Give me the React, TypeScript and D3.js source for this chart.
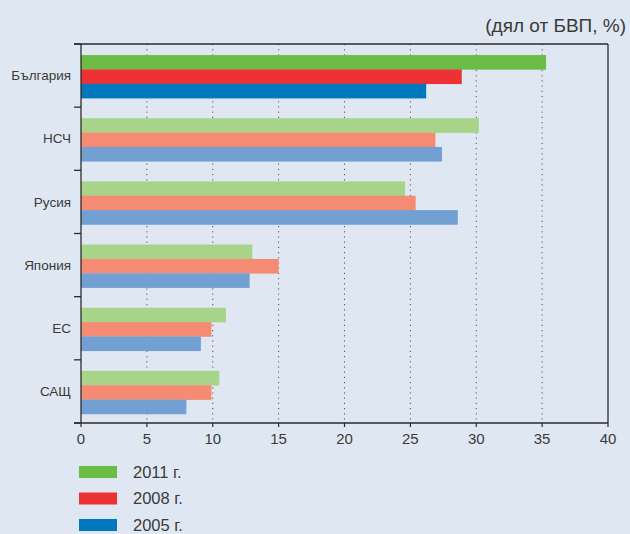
import { useEffect, useRef } from "react";
import * as d3 from "d3";

const categories = ["България", "НСЧ", "Русия", "Япония", "ЕС", "САЩ"];
const years = ["2011 г.", "2008 г.", "2005 г."];
const values2011 = [35.3, 30.2, 24.6, 13.0, 11.0, 10.5];
const values2008 = [28.9, 26.9, 25.4, 15.0, 9.9, 9.9];
const values2005 = [26.2, 27.4, 28.6, 12.8, 9.1, 8.0];
const xTicks = [0, 5, 10, 15, 20, 25, 30, 35, 40];
const unitLabel = "(дял от БВП, %)";

const strongColors = ["#6cbd45", "#ee3135", "#0077be"];
const softColors = ["#a8d489", "#f58b72", "#73a0d3"];

const FONT = "'Liberation Sans Narrow', 'Liberation Sans', sans-serif";
const TEXT = "#3a3a3a";

export default function App() {
  const svgRef = useRef<SVGSVGElement>(null);

  useEffect(() => {
    if (!svgRef.current) return;
    const width = 630;
    const height = 534;
    const margin = { top: 44, left: 81, right: 22, bottom: 111 };
    const innerW = width - margin.left - margin.right;
    const innerH = height - margin.top - margin.bottom;

    const svg = d3.select(svgRef.current);
    svg.selectAll("*").remove();
    svg.attr("width", width).attr("height", height);

    svg.append("rect").attr("width", width).attr("height", height).attr("fill", "#dfe8f2");

    const series = [values2011, values2008, values2005];

    const x = d3.scaleLinear().domain([0, 40]).range([0, innerW]);
    const y = d3.scaleBand<string>().domain(categories).range([0, innerH]);
    const ySub = d3
      .scaleBand<number>()
      .domain([0, 1, 2])
      .range([0, y.bandwidth()])
      .paddingOuter(0.7)
      .align(0.55);

    const chart = svg
      .append("g")
      .attr("transform", `translate(${margin.left},${margin.top})`);

    // dotted grid
    chart
      .selectAll(".grid")
      .data(xTicks.filter((t) => t > 0 && t < 40))
      .enter()
      .append("line")
      .attr("x1", (d) => x(d))
      .attr("x2", (d) => x(d))
      .attr("y1", 0)
      .attr("y2", innerH)
      .attr("stroke", "#555")
      .attr("stroke-width", 1)
      .attr("stroke-dasharray", "1.2,4");

    // bars
    categories.forEach((cat, ci) => {
      const g = chart.append("g").attr("transform", `translate(0,${y(cat)})`);
      series.forEach((vals, si) => {
        g.append("rect")
          .attr("x", 0)
          .attr("y", ySub(si)!)
          .attr("width", x(vals[ci]))
          .attr("height", ySub.bandwidth() + 0.3)
          .attr("fill", ci === 0 ? strongColors[si] : softColors[si]);
      });
    });

    const axisColor = "#2b2b2b";
    // frame: top, right
    chart
      .append("line")
      .attr("x1", -7)
      .attr("x2", innerW)
      .attr("y1", 0)
      .attr("y2", 0)
      .attr("stroke", axisColor)
      .attr("stroke-width", 1.3);
    chart
      .append("line")
      .attr("x1", innerW)
      .attr("x2", innerW)
      .attr("y1", 0)
      .attr("y2", innerH)
      .attr("stroke", axisColor)
      .attr("stroke-width", 1.3);

    // left axis
    chart
      .append("line")
      .attr("x1", 0)
      .attr("x2", 0)
      .attr("y1", 0)
      .attr("y2", innerH)
      .attr("stroke", axisColor)
      .attr("stroke-width", 1.3);
    const boundaries = categories.map((c) => y(c)!).concat([innerH]);
    chart
      .selectAll(".ytick")
      .data(boundaries)
      .enter()
      .append("line")
      .attr("x1", -7)
      .attr("x2", 0)
      .attr("y1", (d) => d)
      .attr("y2", (d) => d)
      .attr("stroke", axisColor)
      .attr("stroke-width", 1.3);

    chart
      .selectAll(".ylabel")
      .data(categories)
      .enter()
      .append("text")
      .attr("x", -10)
      .attr("y", (d) => y(d)! + y.bandwidth() / 2)
      .attr("dy", "0.35em")
      .attr("text-anchor", "end")
      .style("font-family", FONT)
      .style("font-size", "13.5px")
      .attr("fill", TEXT)
      .text((d) => d);

    // bottom axis
    chart
      .append("line")
      .attr("x1", -7)
      .attr("x2", innerW)
      .attr("y1", innerH)
      .attr("y2", innerH)
      .attr("stroke", axisColor)
      .attr("stroke-width", 1.3);
    const xt = chart
      .selectAll(".xtick")
      .data(xTicks)
      .enter()
      .append("g")
      .attr("transform", (d) => `translate(${x(d)},${innerH})`);
    xt.append("line").attr("y1", 0).attr("y2", 4).attr("stroke", axisColor).attr("stroke-width", 1.2);
    xt.append("text")
      .attr("y", 16)
      .attr("dy", "0.35em")
      .attr("text-anchor", "middle")
      .style("font-family", FONT)
      .style("font-size", "15px")
      .attr("fill", TEXT)
      .text((d) => d);

    // unit label
    svg
      .append("text")
      .attr("x", 626)
      .attr("y", 25)
      .attr("dy", "0.35em")
      .attr("text-anchor", "end")
      .style("font-family", FONT)
      .style("font-size", "19px")
      .attr("fill", TEXT)
      .text(unitLabel);

    // legend
    const legend = svg.append("g").attr("transform", "translate(79,472)");
    years.forEach((yr, i) => {
      const row = legend.append("g").attr("transform", `translate(0,${i * 26.5})`);
      row.append("rect").attr("x", 0).attr("y", -6).attr("width", 38).attr("height", 12).attr("fill", strongColors[i]);
      row
        .append("text")
        .attr("x", 54)
        .attr("y", 0)
        .attr("dy", "0.35em")
        .style("font-family", FONT)
        .style("font-size", "16.5px")
        .attr("fill", TEXT)
        .text(yr);
    });
  }, []);

  return (
    <div style={{ position: "absolute", left: 0, top: 0, width: 630, height: 534 }}>
      <svg ref={svgRef} style={{ display: "block" }} />
    </div>
  );
}
